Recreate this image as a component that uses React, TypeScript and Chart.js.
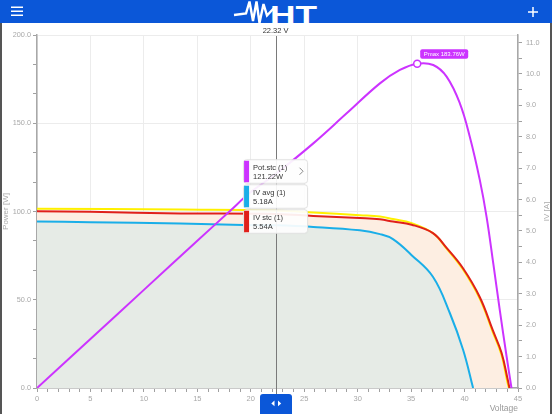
import React, { useEffect, useRef } from 'react';
import { Chart, registerables } from 'chart.js';

Chart.register(...registerables);

// ---- Data ----
const powerVoltage = [0, 5, 10, 15, 18, 20, 22.32, 25.85, 28.97, 32.08, 33.95, 35.57, 37.07, 38.32, 39.56, 40.49, 41.43, 42.06, 42.7, 43.3, 43.93, 44.39];
const powerValues = [0, 27.8, 55.6, 83.4, 100, 111, 121.22, 138.6, 155.6, 172.6, 180.2, 183.76, 183, 176.4, 161.3, 142.4, 117.8, 97, 70, 44, 18, 0];

const avgVoltage = [0, 5, 13.4, 19.3, 22.32, 25.85, 30.2, 32.08, 33.3, 35.05, 37.04, 38.63, 39.87, 40.8];
const avgCurrent = [5.3, 5.28, 5.24, 5.19, 5.18, 5.13, 5.02, 4.9, 4.74, 4.23, 3.54, 2.38, 1.21, 0];

const stcVoltage = [0, 5, 13.4, 22.32, 25.85, 30.2, 32.08, 33.3, 35.05, 37.04, 38.32, 39.84, 41.43, 42.64, 43.46, 44.05, 44.2];
const stcCurrent = [5.63, 5.61, 5.56, 5.54, 5.48, 5.41, 5.37, 5.3, 5.2, 4.93, 4.46, 3.82, 2.89, 1.84, 1.12, 0.25, 0];

const refVoltage = [0, 13.4, 22.32, 25.85, 30.2, 32.08, 33.3, 35.05, 37.04, 38.32, 39.84, 41.43, 42.64, 43.46, 44.0, 44.15];
const refCurrent = [5.71, 5.68, 5.65, 5.59, 5.5, 5.46, 5.38, 5.25, 4.93, 4.44, 3.78, 2.84, 1.78, 1.05, 0.2, 0];

const pmaxVoltage = 35.57;
const pmaxPower = 183.76;
const cursorVoltage = 22.32;
const cursorPower = 121.22;
const cursorAvg = 5.18;
const cursorStc = 5.54;

const xTicks = Array.from({ length: 46 }, (_, i) => i); // 0..45, labels every 5
const yTicks = Array.from({ length: 13 }, (_, i) => (i * 50) / 3); // minor every 50/3, labels every 50
const y1Ticks = Array.from({ length: 23 }, (_, i) => i * 0.5); // 0..11, labels every 1

const FONT = '"Liberation Sans", Arial, sans-serif';
const MAGENTA = '#cc33ff';
const CYAN = '#1aaee8';
const RED = '#e0201a';
const YELLOW = '#fff000';

const pts = (xs: number[], ys: number[]) => xs.map((x, i) => ({ x, y: ys[i] }));
const isMult = (v: number, m: number) => Math.abs(v / m - Math.round(v / m)) < 1e-6;

function rr(ctx: CanvasRenderingContext2D, x: number, y: number, w: number, h: number, r: number) {
  ctx.beginPath();
  ctx.moveTo(x + r, y);
  ctx.lineTo(x + w - r, y);
  ctx.quadraticCurveTo(x + w, y, x + w, y + r);
  ctx.lineTo(x + w, y + h - r);
  ctx.quadraticCurveTo(x + w, y + h, x + w - r, y + h);
  ctx.lineTo(x + r, y + h);
  ctx.quadraticCurveTo(x, y + h, x, y + h - r);
  ctx.lineTo(x, y + r);
  ctx.quadraticCurveTo(x, y, x + r, y);
  ctx.closePath();
}

const overlayPlugin = {
  id: 'overlay',
  afterDatasetsDraw(chart: any) {
    const { ctx, chartArea, scales } = chart;
    const xs = scales.x;
    const cx = xs.getPixelForValue(cursorVoltage);
    ctx.save();
    // cursor line
    ctx.strokeStyle = '#7a7a7a';
    ctx.lineWidth = 1;
    ctx.beginPath();
    ctx.moveTo(Math.round(cx) + 0.5, chartArea.top + 1);
    ctx.lineTo(Math.round(cx) + 0.5, chart.height - 20);
    ctx.stroke();
    ctx.fillStyle = '#333';
    ctx.font = `7.5px ${FONT}`;
    ctx.textAlign = 'center';
    ctx.textBaseline = 'middle';
    ctx.fillText(`${cursorVoltage.toFixed(2)} V`, cx, chartArea.top - 4);

    // info boxes
    const boxes = [
      { color: MAGENTA, l1: 'Pot.stc (1)', l2: `${cursorPower.toFixed(2)}W`, chevron: true },
      { color: CYAN, l1: 'IV avg (1)', l2: `${cursorAvg.toFixed(2)}A`, chevron: false },
      { color: RED, l1: 'IV stc (1)', l2: `${cursorStc.toFixed(2)}A`, chevron: false },
    ];
    const bw = 64;
    const bh = 23.5;
    const bx = cx - bw / 2;
    let by = scales.y.getPixelForValue(cursorPower) - 14.3;
    boxes.forEach((b) => {
      ctx.shadowColor = 'rgba(0,0,0,0.08)';
      ctx.shadowBlur = 2;
      rr(ctx, bx, by, bw, bh, 3);
      ctx.fillStyle = 'rgba(255,255,255,0.92)';
      ctx.fill();
      ctx.shadowBlur = 0;
      ctx.shadowColor = 'transparent';
      ctx.strokeStyle = '#e2e2e2';
      ctx.lineWidth = 1;
      ctx.stroke();
      ctx.fillStyle = b.color;
      ctx.fillRect(bx + 0.5, by + 1, 5, bh - 2);
      ctx.fillStyle = '#333';
      ctx.font = `7.5px ${FONT}`;
      ctx.textAlign = 'left';
      ctx.textBaseline = 'alphabetic';
      ctx.fillText(b.l1, bx + 9.5, by + 10.5);
      ctx.fillText(b.l2, bx + 9.5, by + 19.5);
      if (b.chevron) {
        ctx.strokeStyle = '#888';
        ctx.lineWidth = 1;
        ctx.beginPath();
        ctx.moveTo(bx + bw - 8, by + 8);
        ctx.lineTo(bx + bw - 4.5, by + 11.5);
        ctx.lineTo(bx + bw - 8, by + 15);
        ctx.stroke();
      }
      by += bh + 1.5;
    });

    // Pmax label
    const mx = xs.getPixelForValue(pmaxVoltage);
    const my = scales.y.getPixelForValue(pmaxPower);
    rr(ctx, mx + 3, my - 14.5, 48, 9.5, 2);
    ctx.fillStyle = MAGENTA;
    ctx.fill();
    ctx.fillStyle = '#fff';
    ctx.font = `6px ${FONT}`;
    ctx.textAlign = 'center';
    ctx.textBaseline = 'middle';
    ctx.fillText(`Pmax ${pmaxPower.toFixed(2)}W`, mx + 27, my - 9.6);

    // right axis title (reads bottom-to-top)
    ctx.translate(chart.width - 5, (chartArea.top + chartArea.bottom) / 2);
    ctx.rotate(-Math.PI / 2);
    ctx.fillStyle = '#aaa';
    ctx.font = `8px ${FONT}`;
    ctx.textAlign = 'center';
    ctx.textBaseline = 'middle';
    ctx.fillText('IV [A]', 0, 0);
    ctx.restore();
  },
};

export default function App() {
  const ref = useRef<HTMLCanvasElement | null>(null);

  useEffect(() => {
    if (!ref.current) return;
    const tickFont = { family: FONT, size: 7.3 };
    const line = { pointRadius: 0, borderWidth: 2, tension: 0.4 };
    const chart = new Chart(ref.current, {
      type: 'line',
      data: {
        datasets: [
          {
            label: 'Pmax',
            data: [{ x: pmaxVoltage, y: pmaxPower }],
            yAxisID: 'y',
            showLine: false,
            pointRadius: 3.5,
            pointBackgroundColor: '#fff',
            pointBorderColor: MAGENTA,
            pointBorderWidth: 1.5,
            borderColor: MAGENTA,
            fill: false,
          },
          {
            label: 'Pot.stc (1)',
            data: pts(powerVoltage, powerValues),
            yAxisID: 'y',
            borderColor: MAGENTA,
            ...line,
            fill: false,
          },
          {
            label: 'IV avg (1)',
            data: pts(avgVoltage, avgCurrent),
            yAxisID: 'y1',
            borderColor: CYAN,
            ...line,
            fill: 'origin',
            backgroundColor: '#e6ebe6',
          },
          {
            label: 'IV stc (1)',
            data: pts(stcVoltage, stcCurrent),
            yAxisID: 'y1',
            borderColor: RED,
            ...line,
            fill: 'origin',
            backgroundColor: '#fdeee2',
          },
          {
            label: 'IV ref',
            data: pts(refVoltage, refCurrent),
            yAxisID: 'y1',
            borderColor: YELLOW,
            ...line,
            fill: false,
          },
        ],
      },
      options: {
        animation: false,
        responsive: false,
        events: [],
        layout: { padding: { top: 12, left: 0, right: 0, bottom: 0 } },
        plugins: {
          legend: { display: false },
          tooltip: { enabled: false },
          filler: { drawTime: 'beforeDatasetsDraw' },
        } as any,
        scales: {
          x: {
            type: 'linear',
            min: 0,
            max: 45,
            afterBuildTicks: (s: any) => {
              s.ticks = xTicks.map((v) => ({ value: v }));
            },
            afterFit: (s: any) => {
              s.height = 26;
            },
            ticks: {
              autoSkip: false,
              maxRotation: 0,
              padding: 2,
              color: '#a8a8a8',
              font: { family: FONT, size: 7.5 },
              callback: (v: any) => (isMult(Number(v), 5) ? String(v) : ''),
            },
            grid: {
              color: (c: any) => (c.tick && isMult(c.tick.value, 5) ? '#ececec' : 'rgba(0,0,0,0)'),
              tickColor: '#a0a0a0',
              tickLength: 4,
            },
            border: { color: '#a8a8a8', width: 1.5 },
            title: {
              display: true,
              text: 'Voltage',
              align: 'end',
              color: '#999',
              font: { family: FONT, size: 8.5 },
              padding: 0,
            },
          },
          y: {
            type: 'linear',
            position: 'left',
            min: 0,
            max: 200,
            afterBuildTicks: (s: any) => {
              s.ticks = yTicks.map((v) => ({ value: v }));
            },
            afterFit: (s: any) => {
              s.width = 37;
            },
            ticks: {
              autoSkip: false,
              padding: 2,
              color: '#a8a8a8',
              font: tickFont,
              callback: (v: any) => (isMult(Number(v), 50) ? Number(v).toFixed(1) : ''),
            },
            grid: {
              color: (c: any) => (c.tick && isMult(c.tick.value, 50) ? '#ececec' : 'rgba(0,0,0,0)'),
              tickColor: '#a0a0a0',
              tickLength: 4,
            },
            border: { color: '#a8a8a8', width: 1.5 },
            title: {
              display: true,
              text: 'Power [W]',
              color: '#aaa',
              font: { family: FONT, size: 8 },
              padding: { top: 1, bottom: 0 },
            },
          },
          y1: {
            type: 'linear',
            position: 'right',
            min: 0,
            max: 11.24,
            afterBuildTicks: (s: any) => {
              s.ticks = y1Ticks.map((v) => ({ value: v }));
            },
            afterFit: (s: any) => {
              s.width = 34;
            },
            ticks: {
              autoSkip: false,
              padding: 4,
              color: '#a8a8a8',
              font: tickFont,
              callback: (v: any) => (isMult(Number(v), 1) ? Number(v).toFixed(1) : ''),
            },
            grid: {
              drawOnChartArea: false,
              tickColor: '#a0a0a0',
              tickLength: 4,
            },
            border: { color: '#a8a8a8', width: 1.5 },
          },
        },
      } as any,
      plugins: [overlayPlugin],
    });
    return () => chart.destroy();
  }, []);

  return (
    <div style={{ position: 'fixed', left: 0, top: 0, width: 552, height: 414, background: '#fff', overflow: 'hidden' }}>
      <div style={{ position: 'absolute', left: 0, top: 0, width: 552, height: 23, background: '#0b57d8' }}>
        <svg width={552} height={23} style={{ display: 'block' }}>
          <rect x={11} y={6.5} width={12} height={1.5} fill="#fff" />
          <rect x={11} y={10.5} width={12} height={1.5} fill="#fff" />
          <rect x={11} y={14.5} width={12} height={1.5} fill="#fff" />
          <rect x={528} y={11.25} width={10} height={1.5} fill="#fff" />
          <rect x={532.25} y={7} width={1.5} height={10} fill="#fff" />
          <polyline
            points="234,15 246,13.5 249.5,1.5 253,21 256.5,1.5 259.5,23 263.5,4 267,15.5 275,7"
            fill="none"
            stroke="#fff"
            strokeWidth={2.4}
            strokeLinejoin="miter"
          />
          <text x={270} y={23.5} fill="#fff" fontFamily={FONT} fontWeight="bold" fontSize={26} textLength={47} lengthAdjust="spacingAndGlyphs">
            HT
          </text>
        </svg>
      </div>
      <div style={{ position: 'absolute', left: 0, top: 23, width: 552, height: 391 }}>
        <canvas ref={ref} width={552} height={391} style={{ display: 'block', width: 552, height: 391 }} />
      </div>
      <div style={{ position: 'absolute', left: 0, top: 23, width: 2, height: 391, background: '#555' }} />
      <div style={{ position: 'absolute', left: 550, top: 23, width: 2, height: 391, background: '#555' }} />
      <div style={{ position: 'absolute', left: 260, top: 394, width: 32, height: 20, background: '#0b57d8', borderRadius: '3px 3px 0 0' }}>
        <svg width={32} height={20} style={{ display: 'block' }}>
          <polygon points="14.5,6.5 14.5,12.3 11.3,9.4" fill="#fff" />
          <polygon points="18,6.5 18,12.3 21.2,9.4" fill="#fff" />
        </svg>
      </div>
    </div>
  );
}
